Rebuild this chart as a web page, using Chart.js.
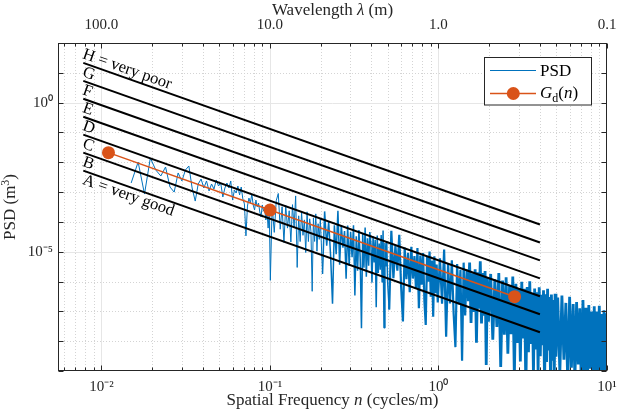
<!DOCTYPE html>
<html><head><meta charset="utf-8">
<script src="https://cdn.jsdelivr.net/npm/chart.js@4.4.1/dist/chart.umd.min.js"></script>
<style>html,body{margin:0;padding:0;background:#fff}canvas{display:block}</style>
</head><body>
<canvas id="c" width="618" height="410"></canvas>
<script>
// ---------- data ----------
const psdFreq = [
0.015,0.0165,0.018,0.0195,0.021,0.0225,0.024,0.0255,0.027,0.0285,0.03,0.0315,0.033,0.0345,0.036,0.0375,0.039,0.0405,0.042,0.0435,0.045,0.0465,0.048,0.0495,0.051,0.0525,0.054,0.0555,0.057,0.0585,0.06,0.0615,0.063,0.0645,0.066,0.0675,0.069,0.0705,0.072,0.0735,0.075,0.0765,0.078,0.0795,0.081,0.0825,0.084,0.0855,0.087,0.0885,0.09,0.0915,0.093,0.0945,0.096,0.0975,0.099,0.1005,
0.103,0.106,0.109,0.112,0.115,0.118,0.121,0.124,0.127,0.130,0.133,0.136,0.139,0.142,0.145,0.148,0.151,0.154,0.157,0.160,0.163,0.166,0.169,0.172,0.175,0.178,0.181,0.184,0.187,0.190,0.193,0.196,0.199,
0.205,0.211,0.217,0.223,0.229,0.235,0.241,0.247,0.253,0.259,0.265,0.271,0.277,0.283,0.289,0.295,0.301,0.307,0.313,0.319,0.325,0.331,0.337,0.343,0.349,0.355,0.361,0.367,0.373,0.379,0.385,0.391,0.397,0.403,0.409,0.415,0.421,0.427,0.433,0.439,0.445,0.451,0.457,0.463,0.469,0.475,0.481,0.487,0.493,0.499,
0.51,0.525,0.54,0.555,0.57,0.585,0.60,0.615,0.63,0.645,0.66,0.675,0.69,0.705,0.72,0.735,0.75,0.765,0.78,0.795,0.81,0.825,0.84,0.855,0.87,0.885,0.90,0.915,0.93,0.945,0.96,0.975,0.99,
1.02,1.05,1.08,1.11,1.14,1.17,1.20,1.23,1.26,1.29,1.32,1.35,1.38,1.41,1.44,1.47,1.50,1.53,1.56,1.59,1.62,1.65,1.68,1.71,1.74,1.77,1.80,1.83,1.86,1.89,1.92,1.95,1.98,
2.04,2.10,2.16,2.22,2.28,2.34,2.40,2.46,2.52,2.58,2.64,2.70,2.76,2.82,2.88,2.94,3.00,3.06,3.12,3.18,3.24,3.30,3.36,3.42,3.48,3.54,3.60,3.66,3.72,3.78,3.84,3.90,3.96,4.02,4.08,4.14,4.20,4.26,4.32,4.38,4.44,4.50,4.56,4.62,4.68,4.74,4.80,4.86,4.92,4.98,
5.10,5.25,5.40,5.55,5.70,5.85,6.00,6.15,6.30,6.45,6.60,6.75,6.90,7.05,7.20,7.35,7.50,7.65,7.80,7.95,8.10,8.25,8.40,8.55,8.70,8.85,9.00,9.15,9.30,9.45,9.60,9.75,9.90
];
const psdValues = [
2.02e-3,1.02e-2,8.6e-4,1.39e-2,5.5e-3,3.47e-3,6.95e-3,1.48e-3,1.0e-3,4.38e-3,2.36e-3,5.5e-3,7.5e-3,1.37e-3,5.0e-4,1.87e-3,2.75e-3,1.37e-3,2.36e-3,1.09e-3,1.87e-3,1.27e-3,2.55e-3,1.6e-3,2.02e-3,6.85e-4,1.37e-3,2.02e-3,1.37e-3,2.36e-3,5.4e-4,1.17e-3,9.3e-4,1.6e-3,8.0e-4,1.48e-3,5.9e-4,4.0e-4,3.4e-5,3.4e-4,6.3e-4,4.3e-4,8.6e-4,3.7e-4,2.5e-4,5.4e-4,3.2e-4,4.3e-4,2.15e-4,1.46e-4,3.7e-4,2.3e-4,2.9e-4,1.16e-4,2.15e-4,6.2e-5,2.5e-4,1.1e-6,
3.53e-4,4.45e-5,5.26e-4,8.97e-4,5.67e-5,3.23e-4,2.05e-5,3.58e-4,6.2e-5,2.37e-4,2.12e-5,3.79e-4,6.47e-5,7.44e-4,2.97e-6,1.6e-4,2.19e-5,2.11e-4,3.55e-5,1.17e-4,9.4e-6,2.18e-4,2.19e-5,1.27e-4,4.9e-5,4.7e-7,1.37e-4,2.21e-5,1.86e-4,1.04e-5,8.7e-5,2.6e-5,1.26e-4,
1.79e-6,2.25e-4,1.59e-5,1.01e-4,7.2e-6,1.81e-7,7.7e-5,8.2e-6,2.35e-4,3.7e-6,7.8e-5,1.36e-5,4.9e-5,1.25e-6,7.5e-5,3.4e-6,4.7e-5,6.6e-6,7.7e-5,3.4e-7,3.3e-5,2.3e-6,5.3e-5,6.4e-6,2.7e-8,4.0e-5,2.9e-6,6.5e-5,1.44e-6,2.8e-5,3.4e-6,4.6e-5,1.9e-5,9.2e-7,3.3e-5,4.4e-6,2.5e-5,1.37e-7,3.5e-5,1.95e-6,1.9e-5,2.5e-6,3.6e-5,9.3e-7,5.1e-5,2.8e-8,1.95e-5,3.2e-6,2.3e-5,1.0e-6,
1.15e-7,5.0e-5,1.29e-6,1.62e-5,2.3e-6,3.7e-5,6.9e-7,4.6e-8,1.39e-5,1.2e-6,9.2e-6,4.4e-7,1.47e-5,1.26e-6,7.2e-6,5.6e-7,1.33e-5,1.28e-7,7.4e-6,7.9e-7,9.1e-6,2.2e-7,3.5e-8,6.8e-6,9.9e-7,1.02e-5,3.1e-7,5.1e-6,6.6e-8,7.0e-6,4.1e-7,3.7e-6,2.0e-7,
6.0e-6,1.82e-7,1.18e-5,1.42e-8,4.2e-6,1.83e-7,5.2e-6,8.3e-8,6.3e-9,3.9e-6,1.72e-7,2.5e-6,2.2e-9,4.3e-6,7.3e-8,2.55e-6,2.2e-7,4.3e-6,4.1e-8,1.88e-6,9.5e-8,2.57e-6,8.9e-9,2.05e-6,1.24e-7,4.8e-6,3.9e-8,1.94e-6,7.2e-8,2.24e-6,1.6e-9,1.31e-6,4.5e-8,
1.8e-6,1.13e-8,1.18e-6,3.0e-8,1.92e-6,1.37e-9,1.09e-6,1.65e-8,1.38e-6,3.8e-9,7.2e-7,1.72e-8,1.48e-6,6.3e-10,8.4e-7,8.7e-9,6.1e-7,2.1e-9,9.8e-7,1.24e-8,5.7e-7,2.3e-10,6.6e-7,4.3e-9,1.03e-6,8.0e-9,4.2e-7,7.5e-10,5.8e-7,5.3e-9,4.4e-7,9.8e-10,6.4e-7,3.1e-9,3.6e-7,7.3e-9,5.1e-7,2.8e-10,3.75e-7,2.0e-9,5.7e-7,4.9e-9,3.0e-7,5.9e-10,3.65e-7,2.2e-9,2.4e-7,3.2e-10,3.9e-7,3.0e-9,
2.9e-7,9.1e-10,3.4e-7,2.4e-9,1.92e-7,3.7e-10,3.1e-7,1.3e-9,1.76e-7,4.8e-10,2.07e-7,1.65e-9,1.26e-7,2.0e-10,2.4e-7,9.3e-10,1.33e-7,4.3e-10,1.64e-7,1.19e-9,9.9e-8,1.8e-10,1.49e-7,6.8e-10,9.9e-8,3.2e-10,1.55e-7,6.0e-10,8.1e-8,1.7e-10,1.08e-7,5.3e-10,8.7e-8
];
const gdFreq = [0.011, 0.1, 2.83];
const gdValues = [0.021, 2.5e-4, 3.1e-7];
const classLineFreq = [0.0078, 4];
const classLineStart = [5.26e-3, 2.10e-2, 8.42e-2, 0.3367, 1.347, 5.387, 21.55];
const classLineEnd = [2.0e-8, 8.0e-8, 3.2e-7, 1.28e-6, 5.12e-6, 2.048e-5, 8.192e-5];
const classLabels = ['A = very good', 'B', 'C', 'D', 'E', 'F', 'G', 'H = very poor'];
const classLabelValues = [2.63e-3, 1.05e-2, 4.21e-2, 0.168, 0.673, 2.69, 10.78, 43.1];
const xTickValues = [0.01, 0.1, 1, 10];
const xTickLabels = ['10\u207B\u00B2', '10\u207B\u00B9', '10\u2070', '10\u00B9'];
const topTickLabels = ['100.0', '10.0', '1.0', '0.1'];
const yTickValues = [1e-5, 1];
const yTickLabels = ['10\u207B\u2075', '10\u2070'];

// ---------- styling ----------
const FONT = '"Liberation Serif", "Times New Roman", serif';
const AX = '#262626';
const BLUE = '#0072BD';
const ORANGE = '#D95319';

function drawRich(ctx, segs, x, y, size, align) {
  const parts = segs.map(s => {
    const sz = (s.sub || s.sup) ? size * 0.7 : size;
    const f = (s.it ? 'italic ' : '') + sz + 'px ' + FONT;
    ctx.font = f;
    return { s, f, w: ctx.measureText(s.t).width };
  });
  const total = parts.reduce((a, p) => a + p.w, 0);
  let cx = align === 'left' ? x : x - total / 2;
  ctx.textAlign = 'left';
  ctx.textBaseline = 'alphabetic';
  parts.forEach(p => {
    ctx.font = p.f;
    let dy = 0;
    if (p.s.sub) dy = size * 0.22;
    if (p.s.sup) dy = -size * 0.38;
    ctx.fillText(p.s.t, cx, y + dy);
    cx += p.w;
  });
}

function minorXValues(scale) {
  const out = [];
  for (let d = -3; d <= 1; d++) for (let m = 1; m <= 9; m++) {
    const v = m * Math.pow(10, d);
    if (v >= scale.min * 0.9999 && v <= scale.max * 1.0001) out.push({ v, major: m === 1 });
  }
  return out;
}
function decadeYValues(scale) {
  const out = [];
  for (let d = -9; d <= 2; d++) {
    const v = Math.pow(10, d);
    if (v >= scale.min * 0.9999 && v <= scale.max * 1.0001) out.push({ v, major: (d === 0 || d === -5) });
  }
  return out;
}

const gridPlugin = {
  id: 'matlabGrid',
  beforeDatasetsDraw(chart) {
    const { ctx, chartArea: a } = chart;
    const xs = chart.scales.x, ys = chart.scales.y;
    ctx.save();
    ctx.beginPath(); ctx.rect(a.left, a.top, a.right - a.left, a.bottom - a.top); ctx.clip();
    ctx.lineWidth = 1;
    minorXValues(xs).forEach(t => {
      const px = Math.round(xs.getPixelForValue(t.v)) + 0.5;
      ctx.strokeStyle = t.major ? '#e6e6e6' : '#d4d4d4';
      ctx.setLineDash(t.major ? [] : [1, 2]);
      ctx.beginPath(); ctx.moveTo(px, a.top); ctx.lineTo(px, a.bottom); ctx.stroke();
    });
    decadeYValues(ys).forEach(t => {
      const py = Math.round(ys.getPixelForValue(t.v)) + 0.5;
      ctx.strokeStyle = t.major ? '#e6e6e6' : '#d4d4d4';
      ctx.setLineDash(t.major ? [] : [1, 2]);
      ctx.beginPath(); ctx.moveTo(a.left, py); ctx.lineTo(a.right, py); ctx.stroke();
    });
    ctx.restore();
  }
};

const boxPlugin = {
  id: 'matlabBox',
  afterDatasetsDraw(chart) {
    const { ctx, chartArea: a } = chart;
    const xs = chart.scales.x, ys = chart.scales.y;
    ctx.save();
    ctx.strokeStyle = AX; ctx.lineWidth = 1; ctx.setLineDash([]);
    const L = Math.round(a.left) + 0.5, R = Math.round(a.right) - 0.5;
    const T = Math.round(a.top) + 0.5, B = Math.round(a.bottom) - 0.5;
    ctx.beginPath();
    minorXValues(xs).forEach(t => {
      const px = Math.round(xs.getPixelForValue(t.v)) + 0.5;
      const len = t.major ? 5 : 3;
      ctx.moveTo(px, B); ctx.lineTo(px, B - len);
      ctx.moveTo(px, T); ctx.lineTo(px, T + len);
    });
    decadeYValues(ys).forEach(t => {
      const py = Math.round(ys.getPixelForValue(t.v)) + 0.5;
      ctx.moveTo(L, py); ctx.lineTo(L + 5, py);
      ctx.moveTo(R, py); ctx.lineTo(R - 5, py);
    });
    ctx.stroke();
    ctx.strokeRect(L, T, R - L, B - T);

    // class labels along the class lines
    const x0 = xs.getPixelForValue(classLineFreq[0]);
    const x1 = xs.getPixelForValue(classLineFreq[1]);
    const y0 = ys.getPixelForValue(classLineStart[0]);
    const y1 = ys.getPixelForValue(classLineEnd[0]);
    const ang = Math.atan2(y1 - y0, x1 - x0);
    ctx.fillStyle = '#000';
    ctx.font = '16.5px ' + FONT;
    ctx.textAlign = 'left'; ctx.textBaseline = 'middle';
    classLabels.forEach((lab, i) => {
      const py = ys.getPixelForValue(classLabelValues[i]);
      ctx.save();
      ctx.translate(x0, py);
      ctx.rotate(ang);
      ctx.fillText(lab, 0, 0);
      ctx.restore();
    });
    ctx.restore();
  },
  afterDraw(chart) {
    const { ctx, chartArea: a } = chart;
    ctx.save();
    ctx.fillStyle = AX;
    const cxm = (a.left + a.right) / 2;
    drawRich(ctx, [{ t: 'Wavelength ' }, { t: '\u03BB', it: true }, { t: ' (m)' }], cxm, 15, 17);
    drawRich(ctx, [{ t: 'Spatial Frequency ' }, { t: 'n', it: true }, { t: ' (cycles/m)' }], cxm, 405, 17);
    ctx.save();
    ctx.translate(15, (a.top + a.bottom) / 2);
    ctx.rotate(-Math.PI / 2);
    drawRich(ctx, [{ t: 'PSD (m' }, { t: '3', sup: true }, { t: ')' }], 0, 0, 17);
    ctx.restore();

    // legend
    const lx = 484.5, ly = 57.5, lw = 107, lh = 47.5;
    ctx.fillStyle = '#fff';
    ctx.fillRect(lx, ly, lw, lh);
    ctx.strokeStyle = AX; ctx.lineWidth = 1;
    ctx.strokeRect(lx, ly, lw, lh);
    ctx.strokeStyle = BLUE; ctx.lineWidth = 1;
    ctx.beginPath(); ctx.moveTo(490, 70.5); ctx.lineTo(536, 70.5); ctx.stroke();
    ctx.strokeStyle = ORANGE; ctx.lineWidth = 1.5;
    ctx.beginPath(); ctx.moveTo(490, 93.5); ctx.lineTo(536, 93.5); ctx.stroke();
    ctx.fillStyle = ORANGE;
    ctx.beginPath(); ctx.arc(513.3, 93.5, 6.5, 0, Math.PI * 2); ctx.fill();
    ctx.fillStyle = '#000';
    drawRich(ctx, [{ t: 'PSD' }], 540, 76, 17, 'left');
    drawRich(ctx, [{ t: 'G', it: true }, { t: 'd', sub: true }, { t: '(' }, { t: 'n', it: true }, { t: ')' }], 540, 98, 17, 'left');
    ctx.restore();
  }
};

const xmin = 0.00552, xmax = 10, ymin = 1e-9, ymax = 100;
const tickFont = { family: FONT, size: 15 };
const noPad = s => { s.paddingLeft = 0; s.paddingRight = 0; s.paddingTop = 0; s.paddingBottom = 0; };

new Chart(document.getElementById('c'), {
  type: 'scatter',
  data: {
    datasets: [
      { label: 'PSD', data: psdFreq.map((x, i) => ({ x, y: psdValues[i] })), showLine: true,
        borderColor: BLUE, backgroundColor: BLUE, borderWidth: 1, pointRadius: 0, order: 3,
        borderJoinStyle: 'bevel',
        segment: { borderWidth: c => { const n = c.p0.parsed.x; return n < 0.2 ? 1 : n < 0.5 ? 1.5 : n < 1.5 ? 2.2 : 2.8; } } },
      ...classLineStart.map((s, i) => ({
        label: 'class' + i, data: [{ x: classLineFreq[0], y: s }, { x: classLineFreq[1], y: classLineEnd[i] }],
        showLine: true, borderColor: '#000', backgroundColor: '#000', borderWidth: 2, pointRadius: 0, order: 2 })),
      { label: 'Gd(n)', data: gdFreq.map((x, i) => ({ x, y: gdValues[i] })), showLine: true,
        borderColor: ORANGE, backgroundColor: ORANGE, borderWidth: 1.5, pointRadius: 6.5,
        pointBackgroundColor: ORANGE, pointBorderColor: ORANGE, pointBorderWidth: 0, order: 1 }
    ]
  },
  options: {
    responsive: false, animation: false, devicePixelRatio: 1, events: [],
    layout: { padding: { left: 0, right: 11, top: 0, bottom: 0 } },
    plugins: { legend: { display: false }, tooltip: { enabled: false } },
    scales: {
      x: {
        type: 'logarithmic', position: 'bottom', min: xmin, max: xmax,
        grid: { display: false, drawTicks: false }, border: { display: false },
        afterBuildTicks: s => { s.ticks = xTickValues.map(v => ({ value: v })); },
        ticks: { callback: (v, i) => xTickLabels[i], font: tickFont, color: AX, autoSkip: false, maxRotation: 0, minRotation: 0, padding: 7 },
        afterFit: s => { s.height = 39; noPad(s); }
      },
      x2: {
        type: 'logarithmic', position: 'top', axis: 'x', min: xmin, max: xmax,
        grid: { display: false, drawTicks: false }, border: { display: false },
        afterBuildTicks: s => { s.ticks = xTickValues.map(v => ({ value: v })); },
        ticks: { callback: (v, i) => topTickLabels[i], font: tickFont, color: AX, autoSkip: false, maxRotation: 0, minRotation: 0, padding: 9 },
        afterFit: s => { s.height = 43; noPad(s); }
      },
      y: {
        type: 'logarithmic', position: 'left', min: ymin, max: ymax,
        grid: { display: false, drawTicks: false }, border: { display: false },
        afterBuildTicks: s => { s.ticks = yTickValues.map(v => ({ value: v })); },
        ticks: { callback: (v, i) => yTickLabels[i], font: tickFont, color: AX, autoSkip: false, padding: 5 },
        afterFit: s => { s.width = 58; noPad(s); }
      }
    }
  },
  plugins: [gridPlugin, boxPlugin]
});
</script>
</body></html>
